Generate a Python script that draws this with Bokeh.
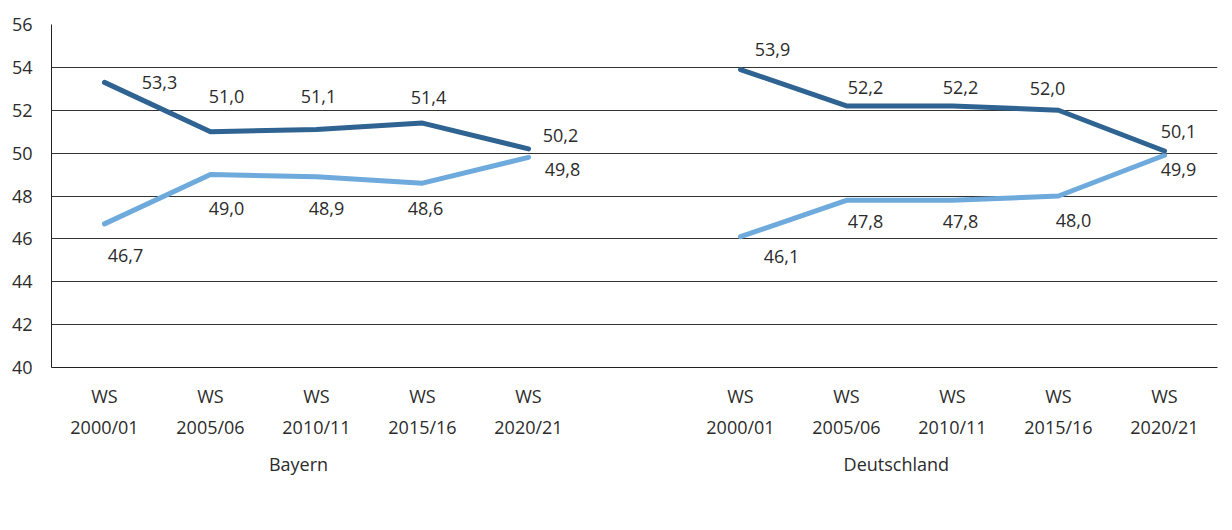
from bokeh.plotting import figure
from bokeh.models import (ColumnDataSource, LabelSet, Legend, LegendItem, FixedTicker,
                          Range1d, LinearAxis)
from bokeh.core.properties import value
from bokeh.embed import file_html
from bokeh.resources import INLINE

# ---------------- data ----------------
regions = ["Bayern", "Deutschland"]
semesters = ["WS\n2000/01", "WS\n2005/06", "WS\n2010/11", "WS\n2015/16", "WS\n2020/21"]
frauen_bayern = [46.7, 49.0, 48.9, 48.6, 49.8]
maenner_bayern = [53.3, 51.0, 51.1, 51.4, 50.2]
frauen_deutschland = [46.1, 47.8, 47.8, 48.0, 49.9]
maenner_deutschland = [53.9, 52.2, 52.2, 52.0, 50.1]
y_ticks = [40, 42, 44, 46, 48, 50, 52, 54, 56]

# ---------------- label placement (pixels, style only) ----------------
off_m_bayern = [(55, 0), (16, 35), (2, 33), (6, 26), (32, 13)]
off_f_bayern = [(21, -32), (16, -34), (10, -32), (3, -25), (34, -12)]
off_m_de = [(32, 20), (19, 18), (8, 18), (-11, 22), (14, 19)]
off_f_de = [(41, -20), (19, -21), (8, -21), (15, -24), (14, -14)]
group_label_pos = [2.33, 7.97]  # x positions (category units) of the group captions

FONT = "Open Sans"
TXT = "#2b2b2b"
C_F = "#6eaadc"
C_M = "#2f6391"
FS = "18px"

n = len(semesters)
slots = 2 * n + 1  # two groups of categories with one empty slot between


def cat_x(g, i):
    # centre of category i in group g (one empty slot between the groups)
    return g * (n + 1) + i + 0.5


p = figure(
    x_range=Range1d(0, slots),
    y_range=(40, 56),
    frame_width=1166, frame_height=343,
    min_border_left=51, min_border_right=2, min_border_top=24, min_border_bottom=0,
    output_backend="svg", toolbar_location=None,
)
p.outline_line_color = None
p.background_fill_color = "white"

# y axis
p.yaxis.ticker = FixedTicker(ticks=y_ticks)
p.yaxis.major_tick_line_color = None
p.yaxis.minor_tick_line_color = None
p.yaxis.major_tick_out = 0
p.yaxis.major_tick_in = 0
p.yaxis.axis_line_color = "#222222"
p.yaxis.major_label_text_font = FONT
p.yaxis.major_label_text_font_size = FS
p.yaxis.major_label_text_color = TXT
p.yaxis.major_label_standoff = 19
p.ygrid.grid_line_color = "#333333"
p.ygrid.grid_line_width = 1
p.xgrid.grid_line_color = None

# x axis (categories)
tick_pos = [cat_x(g, i) for g in range(len(regions)) for i in range(n)]
xa = p.xaxis[0]
xa.ticker = FixedTicker(ticks=tick_pos)
xa.major_label_overrides = {tick_pos[g * n + i]: semesters[i] for g in range(len(regions)) for i in range(n)}
xa.major_tick_line_color = None
xa.minor_tick_line_color = None
xa.major_tick_out = 0
xa.major_tick_in = 0
xa.axis_line_color = "#222222"
xa.major_label_text_font = FONT
xa.major_label_text_font_size = FS
xa.major_label_text_color = TXT
xa.major_label_text_line_height = 1.33
xa.major_label_standoff = 16

# group captions on a second axis below
gax = LinearAxis(
    ticker=FixedTicker(ticks=group_label_pos),
    major_label_overrides={group_label_pos[0]: regions[0], group_label_pos[1]: regions[1]},
    axis_line_color=None, major_tick_line_color=None, minor_tick_line_color=None,
    major_tick_out=0, major_tick_in=0,
    major_label_text_font=FONT, major_label_text_font_size=FS,
    major_label_text_color=TXT, major_label_standoff=9,
)
p.add_layout(gax, "below")


def fmt(v):
    return f"{v:.1f}".replace(".", ",")


legend_items = {"Frauen": [], "Männer": []}
series = [
    (0, frauen_bayern, off_f_bayern, C_F, "Frauen"),
    (0, maenner_bayern, off_m_bayern, C_M, "Männer"),
    (1, frauen_deutschland, off_f_de, C_F, "Frauen"),
    (1, maenner_deutschland, off_m_de, C_M, "Männer"),
]
for g, vals, offs, col, name in series:
    src = ColumnDataSource(dict(
        x=[cat_x(g, i) for i in range(n)],
        y=vals,
        t=[fmt(v) for v in vals],
        dx=[o[0] for o in offs],
        dy=[o[1] for o in offs],
    ))
    r = p.line("x", "y", source=src, line_color=col, line_width=5, line_join="round", line_cap="round")
    legend_items[name].append(r)
    ls = LabelSet(x="x", y="y", text="t", source=src, x_offset="dx", y_offset="dy",
                  text_align="center", text_baseline="middle",
                  text_font=value(FONT), text_font_size=value(FS), text_color=TXT)
    p.add_layout(ls)

legend = Legend(
    items=[LegendItem(label="Frauen", renderers=legend_items["Frauen"]),
           LegendItem(label="Männer", renderers=legend_items["Männer"])],
    orientation="horizontal", location="top",
    label_text_font=FONT, label_text_font_size=FS, label_text_color=TXT,
    glyph_width=43, glyph_height=12, label_standoff=4, spacing=40, border_line_color=None,
    padding=0, margin=0, label_height=12,
)
p.add_layout(legend, "below")

open("out.html", "w").write(file_html(p, INLINE))
